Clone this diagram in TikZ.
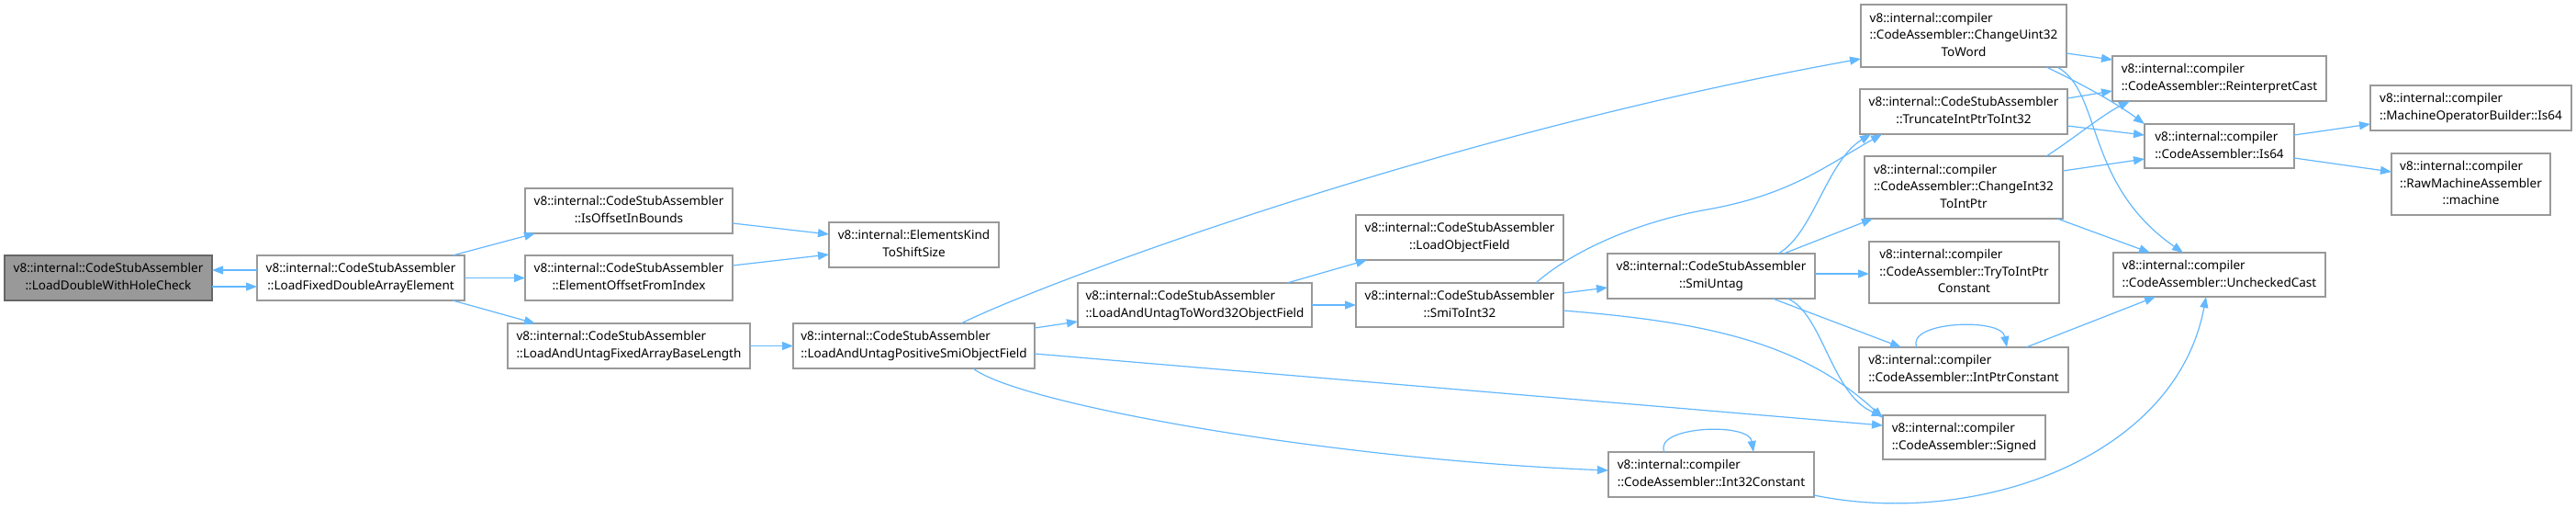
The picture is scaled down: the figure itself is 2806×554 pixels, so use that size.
\documentclass[tikz,border=0pt]{standalone}
\usepackage{fontspec}
\setmainfont{Noto Sans}
\usetikzlibrary{arrows.meta}
\definecolor{edgec}{HTML}{63B8FF}
\definecolor{boxc}{HTML}{999999}
\definecolor{rootb}{HTML}{666666}
\definecolor{rootf}{HTML}{999999}
\newcommand\lbb[2]{\begin{tabular}{@{}l@{}}#1\\\multicolumn{1}{@{}c@{}}{#2}\end{tabular}}
\newcommand\lbc[3]{\begin{tabular}{@{}l@{}}#1\\#2\\\multicolumn{1}{@{}c@{}}{#3}\end{tabular}}
\begin{document}
\begin{tikzpicture}[x=1pt,y=-1pt,
  box/.style={draw=boxc,fill=white,line width=1.1pt,inner sep=0pt,outer sep=0pt,
    font=\fontsize{13.5}{18.7}\selectfont,text=black},
  rootbox/.style={box,draw=rootb,fill=rootf},
  edge/.style={draw=edgec,line width=1.2pt,-{Triangle[length=12pt,width=9pt]}}]
\useasboundingbox[fill=white] (0,0) rectangle (2806,554);
% nodes
\node[rootbox,minimum width=226pt,minimum height=49pt] (ldwhc) at (118,302.5) {\lbb{v8::internal::CodeStubAssembler}{::LoadDoubleWithHoleCheck}};
\node[box,minimum width=226pt,minimum height=49pt] (lfdae) at (393,302.5) {\lbb{v8::internal::CodeStubAssembler}{::LoadFixedDoubleArrayElement}};
\node[box,minimum width=226pt,minimum height=49pt] (ioib) at (685,229.5) {\lbb{v8::internal::CodeStubAssembler}{::IsOffsetInBounds}};
\node[box,minimum width=226pt,minimum height=49pt] (eofi) at (685,302.5) {\lbb{v8::internal::CodeStubAssembler}{::ElementOffsetFromIndex}};
\node[box,minimum width=264pt,minimum height=49pt] (laufabl) at (685,376.5) {\lbb{v8::internal::CodeStubAssembler}{::LoadAndUntagFixedArrayBaseLength}};
\node[box,minimum width=185pt,minimum height=49pt] (ektss) at (995.5,266.5) {\lbb{v8::internal::ElementsKind}{ToShiftSize}};
\node[box,minimum width=263pt,minimum height=49pt] (laupsof) at (995.5,376.5) {\lbb{v8::internal::CodeStubAssembler}{::LoadAndUntagPositiveSmiObjectField}};
\node[box,minimum width=226pt,minimum height=49pt] (lof) at (1590,258.5) {\lbb{v8::internal::CodeStubAssembler}{::LoadObjectField}};
\node[box,minimum width=255pt,minimum height=48pt] (lautw) at (1301.5,332) {\lbb{v8::internal::CodeStubAssembler}{::LoadAndUntagToWord32ObjectField}};
\node[box,minimum width=226pt,minimum height=48pt] (smitoint) at (1590,332) {\lbb{v8::internal::CodeStubAssembler}{::SmiToInt32}};
\node[box,minimum width=226pt,minimum height=49pt] (smiuntag) at (1864,300.5) {\lbb{v8::internal::CodeStubAssembler}{::SmiUntag}};
\node[box,minimum width=207pt,minimum height=67pt] (try) at (2139.5,296.5) {\lbc{v8::internal::compiler}{::CodeAssembler::TryToIntPtr}{Constant}};
\node[box,minimum width=228pt,minimum height=49pt] (ipc) at (2139,402.5) {\lbb{v8::internal::compiler}{::CodeAssembler::IntPtrConstant}};
\node[box,minimum width=177pt,minimum height=48pt] (signed) at (2139.5,476) {\lbb{v8::internal::compiler}{::CodeAssembler::Signed}};
\node[box,minimum width=224pt,minimum height=49pt] (i32c) at (1864,516.5) {\lbb{v8::internal::compiler}{::CodeAssembler::Int32Constant}};
\node[box,minimum width=224pt,minimum height=68pt] (cu32) at (2139,39) {\lbc{v8::internal::compiler}{::CodeAssembler::ChangeUint32}{ToWord}};
\node[box,minimum width=233pt,minimum height=49pt] (rc) at (2417.5,85.5) {\lbb{v8::internal::compiler}{::CodeAssembler::ReinterpretCast}};
\node[box,minimum width=226pt,minimum height=49pt] (trunc) at (2139,121.5) {\lbb{v8::internal::CodeStubAssembler}{::TruncateIntPtrToInt32}};
\node[box,minimum width=163pt,minimum height=48pt] (is64) at (2417.5,159) {\lbb{v8::internal::compiler}{::CodeAssembler::Is64}};
\node[box,minimum width=216pt,minimum height=68pt] (ci32) at (2139,204) {\lbc{v8::internal::compiler}{::CodeAssembler::ChangeInt32}{ToIntPtr}};
\node[box,minimum width=219pt,minimum height=49pt] (mob) at (2691.5,117.5) {\lbb{v8::internal::compiler}{::MachineOperatorBuilder::Is64}};
\node[box,minimum width=173pt,minimum height=67pt] (rma) at (2691.5,200.5) {\lbc{v8::internal::compiler}{::RawMachineAssembler}{::machine}};
\node[box,minimum width=231pt,minimum height=48pt] (uc) at (2417.5,299) {\lbb{v8::internal::compiler}{::CodeAssembler::UncheckedCast}};
% edges
\path[edge] ([yshift=-16pt]lfdae.north west) -- ([yshift=-16pt]ldwhc.north east);
\path[edge] ([yshift=-34pt]ldwhc.north east) -- ([yshift=-34pt]lfdae.north west);
\path[edge] ([xshift=213pt]lfdae.north west) -- ([xshift=11pt]ioib.south west);
\path[edge] (lfdae.east) -- (eofi.west);
\path[edge] ([xshift=213pt]lfdae.south west) -- ([xshift=30pt]laufabl.north west);
\path[edge] ([yshift=-38pt]ioib.north east) -- ([yshift=-13pt]ektss.north west);
\path[edge] ([yshift=-11pt]eofi.north east) -- ([yshift=-35pt]ektss.north west);
\path[edge] (laufabl.east) -- (laupsof.west);
\path[edge] ([xshift=183pt]laupsof.north west) .. controls (1120,315) and (1550,150) .. ([yshift=-59pt]cu32.north west);
\path[edge] ([yshift=-5pt]laupsof.north east) -- ([yshift=-42pt]lautw.north west);
\path[edge] ([yshift=-33pt]laupsof.north east) -- ([yshift=-11pt]signed.north west);
\path[edge] ([xshift=196pt]laupsof.south west) .. controls (1110,440) and (1450,500) .. ([yshift=-20pt]i32c.north west);
\path[edge] ([xshift=228pt]lautw.north west) -- ([xshift=12pt]lof.south west);
\path[edge] (lautw.east) -- (smitoint.west);
\path[edge] ([yshift=-11pt]smitoint.north east) -- ([yshift=-37pt]smiuntag.north west);
\path[edge] ([xshift=196pt]smitoint.north west) .. controls (1710,275) and (1780,242) .. (1860,228) .. controls (1950,212) and (1990,180) .. ([xshift=24pt]trunc.south west);
\path[edge] ([xshift=186pt]smiuntag.north west) .. controls (1975,255) and (1990,175) .. ([xshift=12pt]trunc.south west);
\path[edge] ([xshift=192pt]smiuntag.north west) -- ([xshift=9pt]ci32.south west);
\path[edge] ([yshift=-22pt]smiuntag.north east) -- ([yshift=-35pt]try.north west);
\path[edge] ([xshift=180pt]smiuntag.south west) -- ([xshift=46pt]ipc.north west);
\path[edge] ([xshift=196pt]smiuntag.south west) .. controls (1985,340) and (1995,430) .. ([yshift=-1pt]signed.north west);
\path[edge] ([yshift=-30pt]smitoint.north east) .. controls (1850,350) and (1960,370) .. ([yshift=-3pt]signed.north west);
\path[edge] ([yshift=-53pt]cu32.north east) -- ([yshift=-4pt]rc.north west);
\path[edge] ([xshift=202pt]cu32.south west) .. controls (2265,90) and (2305,112) .. (is64.north west);
\path[edge] ([xshift=214pt]cu32.south west) .. controls (2290,100) and (2270,200) .. ([xshift=76pt]uc.north west);
\path[edge] ([yshift=-10pt]trunc.north east) -- ([yshift=-38pt]rc.north west);
\path[edge] ([yshift=-40pt]trunc.north east) -- ([yshift=-12pt]is64.north west);
\path[edge] ([xshift=198pt]ci32.north west) .. controls (2260,150) and (2290,125) .. ([xshift=19pt]rc.south west);
\path[edge] ([yshift=-16pt]ci32.north east) -- ([yshift=-38pt]is64.north west);
\path[edge] ([xshift=210pt]ci32.south west) -- ([xshift=40pt]uc.north west);
\path[edge] ([yshift=-12pt]is64.north east) -- ([yshift=-42pt]mob.north west);
\path[edge] ([yshift=-37pt]is64.north east) -- ([yshift=-20pt]rma.north west);
\path[edge] ([xshift=63pt]ipc.north west) .. controls (2075,350) and (2180,345) .. ([xshift=161pt]ipc.north west);
\path[edge] ([xshift=182pt]ipc.north west) -- ([xshift=46pt]uc.south west);
\path[edge] ([xshift=61pt]i32c.north west) .. controls (1800,464) and (1905,459) .. ([xshift=158pt]i32c.north west);
\path[edge] ([yshift=-47pt]i32c.north east) .. controls (2150,575) and (2370,500) .. ([xshift=101pt]uc.south west);
\end{tikzpicture}
\end{document}
